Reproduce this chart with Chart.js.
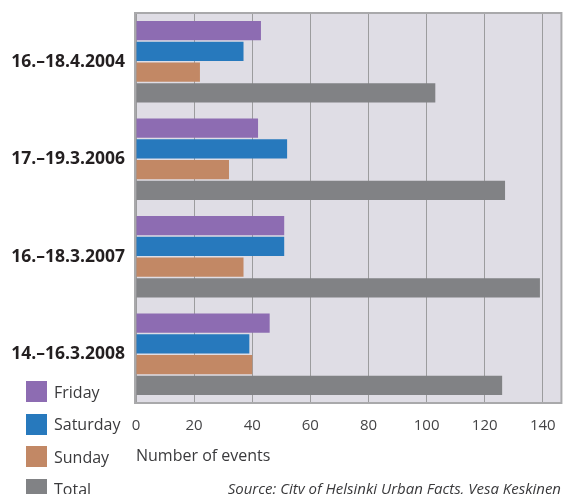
<!DOCTYPE html>
<html>
<head>
<meta charset="utf-8">
<script src="https://cdn.jsdelivr.net/npm/chart.js@4/dist/chart.umd.min.js"></script>
<style>
  html, body { margin: 0; padding: 0; background: #fff; }
  #wrap { position: relative; width: 570px; height: 494px; overflow: hidden; }
  #chart { position: absolute; left: 0; top: 0; }
  #legend { position: absolute; left: 26px; top: 381px; font-family: "Open Sans", sans-serif; font-size: 16px; color: #3a3a3c; }
  .item { display: flex; align-items: center; height: 21px; margin-bottom: 11.5px; }
  .box { width: 21px; height: 21px; margin-right: 7px; }
  #source { position: absolute; right: 9px; top: 478px; font-family: "Open Sans", sans-serif; font-style: italic; font-size: 15px; color: #3a3a3c; white-space: nowrap; }
</style>
</head>
<body>
<div id="wrap">
  <canvas id="chart" width="570" height="494"></canvas>
  <div id="legend"></div>
  <div id="source">Source: City of Helsinki Urban Facts, Vesa Keskinen</div>
</div>
<script>
const categories = ["16.–18.4.2004", "17.–19.3.2006", "16.–18.3.2007", "14.–16.3.2008"];
const seriesNames = ["Friday", "Saturday", "Sunday", "Total"];
const seriesColors = ["#8d6cb2", "#2779bd", "#c28865", "#818285"];

const friday = [43, 42, 51, 46];
const saturday = [37, 52, 51, 39];
const sunday = [22, 32, 37, 40];
const total = [103, 127, 139, 126];

const seriesValues = [friday, saturday, sunday, total];

// texture-ish background and frame of the plot area
const plotBackground = {
  id: "plotBackground",
  beforeDraw(chart) {
    const { ctx, chartArea } = chart;
    ctx.save();
    ctx.fillStyle = "#dfdde5";
    ctx.fillRect(chartArea.left, chartArea.top, chartArea.width, chartArea.height);
    ctx.restore();
  },
  afterDraw(chart) {
    const { ctx, chartArea } = chart;
    ctx.save();
    ctx.strokeStyle = "#a9a9ab";
    ctx.lineWidth = 2;
    ctx.strokeRect(chartArea.left - 1, chartArea.top, chartArea.width + 1, chartArea.height);
    ctx.restore();
  },
};

const legend = document.getElementById("legend");
seriesNames.forEach((name, i) => {
  const item = document.createElement("div");
  item.className = "item";
  const box = document.createElement("div");
  box.className = "box";
  box.style.background = seriesColors[i];
  const label = document.createElement("span");
  label.innerText = name;
  item.appendChild(box);
  item.appendChild(label);
  legend.appendChild(item);
});

new Chart(document.getElementById("chart"), {
  type: "bar",
  data: {
    labels: categories,
    datasets: seriesNames.map((name, i) => ({
      label: name,
      data: seriesValues[i],
      backgroundColor: seriesColors[i],
      borderWidth: 0,
      barPercentage: 0.93,
      categoryPercentage: 0.85,
    })),
  },
  options: {
    indexAxis: "y",
    responsive: false,
    animation: false,
    layout: { padding: { top: 13, right: 7, left: 0, bottom: 28 } },
    plugins: {
      legend: { display: false },
      tooltip: { enabled: false },
    },
    scales: {
      x: {
        min: 0,
        max: 146.4,
        border: { display: false },
        grid: { color: "#9c9c9e", lineWidth: 1, drawTicks: false },
        ticks: {
          stepSize: 20,
          includeBounds: false,
          padding: 14,
          color: "#444446",
          font: { family: "Open Sans", size: 15 },
        },
        title: {
          display: true,
          text: "Number of events",
          align: "start",
          color: "#3a3a3c",
          font: { family: "Open Sans", size: 16 },
          padding: { top: 6, bottom: 0 },
        },
        afterFit(scale) {
          scale.height = 63;
        },
      },
      y: {
        border: { display: false },
        grid: { display: false, drawTicks: false },
        ticks: {
          padding: 11,
          color: "#231f20",
          font: { family: "Open Sans", size: 17.5, weight: "bold" },
        },
        afterFit(scale) {
          scale.width = 136;
          scale.paddingTop = 0;
          scale.paddingBottom = 0;
        },
      },
    },
  },
  plugins: [plotBackground],
});
</script>
</body>
</html>
